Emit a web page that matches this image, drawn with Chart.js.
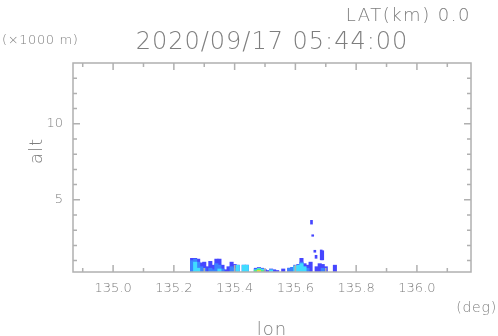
<!DOCTYPE html>
<html>
<head>
<meta charset="utf-8">
<script src="https://cdn.jsdelivr.net/npm/chart.js@4.4.1/dist/chart.umd.min.js"></script>
<style>
  html, body { margin: 0; padding: 0; background: #fff; }
  #wrap { width: 498px; height: 336px; position: relative; }
</style>
</head>
<body>
<div id="wrap"><canvas id="c"></canvas></div>
<script>
// lon columns (deg) and echo tops (km) per intensity level
const colLon = [135.26, 135.27, 135.28, 135.29, 135.30, 135.31, 135.32, 135.33, 135.34, 135.35,
  135.36, 135.37, 135.38, 135.39, 135.40, 135.41, 135.43, 135.44, 135.47, 135.48,
  135.49, 135.50, 135.51, 135.52, 135.53, 135.54, 135.56, 135.58, 135.59, 135.60,
  135.61, 135.62, 135.63, 135.64, 135.65, 135.67, 135.68, 135.69, 135.70, 135.73];
const blueTop = [1.15, 1.15, 1.1, 0.85, 0.9, 0.6, 0.95, 0.7, 1.1, 1.1,
  0.7, 0.4, 0.6, 0.9, 0.75, 0.7, 0.7, 0.7, 0.5, 0.55,
  0.5, 0.4, 0.35, 0.45, 0.4, 0.35, 0.45, 0.5, 0.55, 0.7,
  0.75, 1.15, 0.8, 0.7, 0.9, 0.6, 0.8, 0.75, 0.6, 0.7];
const midTop = [1.0, 1.1, 0.9, 0.6, 0.5, null, 0.5, 0.4, 0.8, 0.7,
  0.45, null, null, 0.6, 0.5, null, null, null, 0.45, null,
  null, null, null, null, null, null, null, 0.5, 0.55, 0.6,
  null, 0.9, null, 0.5, null, null, null, 0.5, null, null];
const cyanTop = [null, 0.9, 0.5, null, null, null, null, null, null, 0.45,
  null, null, null, null, null, 0.7, 0.7, 0.7, 0.4, 0.5,
  0.45, null, null, 0.4, null, null, null, null, null, 0.65,
  0.7, 0.8, 0.6, null, null, null, null, null, null, null];
const greenTop = [null, null, null, null, null, null, null, null, null, null,
  null, null, null, null, null, null, null, null, 0.35, 0.45,
  0.35, null, null, null, null, null, null, null, null, null,
  null, null, null, null, null, null, null, null, null, null];
const yellowTop = [null, null, null, null, null, null, null, null, null, null,
  null, null, null, null, null, null, null, null, null, 0.35,
  null, null, null, null, null, null, null, null, null, null,
  null, null, null, null, null, null, null, null, null, null];

// detached echoes aloft
const floatLon = [135.653, 135.657, 135.664, 135.668, 135.685, 135.69];
const floatLo = [3.4, 2.6, 1.55, 1.15, 1.05, 1.05];
const floatHi = [3.65, 2.7, 1.68, 1.35, 1.7, 1.65];

const xMajor = [135.0, 135.2, 135.4, 135.6, 135.8, 136.0];
const xMinor = [134.9, 135.1, 135.3, 135.5, 135.7, 135.9, 136.1];
const yMajor = [5, 10];
const yMinor = [1, 2, 3, 4, 6, 7, 8, 9, 11, 12, 13];

const X_MIN = 134.868, X_MAX = 136.178;
const Y_MIN = 0.25, Y_MAX = 14.0;

const TEXT = '#7e7e7e';
const LINE = '#b0b0b0';
const FONT = '"DejaVu Sans"';

function cols(tops) {
  const out = [];
  tops.forEach((t, i) => { if (t != null) out.push({ x: colLon[i], y: [Y_MIN, t] }); });
  return out;
}

function layer(tops, color) {
  return { data: cols(tops), backgroundColor: color, barThickness: 3.4, grouped: false, borderWidth: 0 };
}

// dataset 0 is painted on top, so the strongest level goes first
const datasets = [
  layer(yellowTop, '#f0e030'),
  layer(greenTop, '#50f07a'),
  layer(cyanTop, '#40dcff'),
  layer(midTop, '#3c82ff'),
  layer(blueTop, '#4646ff'),
  {
    data: floatLon.map((v, i) => ({ x: v, y: [floatLo[i], floatHi[i]] })),
    backgroundColor: '#4646ff', barThickness: 2, grouped: false, borderWidth: 0,
  },
];

const framePlugin = {
  id: 'frame',
  afterDatasetsDraw(chart) {
    const { ctx, chartArea: a, scales: { x, y } } = chart;
    ctx.save();
    ctx.strokeStyle = LINE;
    ctx.lineWidth = 1.5;
    ctx.strokeRect(a.left, a.top, a.width, a.height);
    ctx.beginPath();
    const xt = (v, len) => {
      const px = x.getPixelForValue(v);
      ctx.moveTo(px, a.bottom); ctx.lineTo(px, a.bottom - len);
      ctx.moveTo(px, a.top); ctx.lineTo(px, a.top + len);
    };
    const yt = (v, len) => {
      const py = y.getPixelForValue(v);
      ctx.moveTo(a.left, py); ctx.lineTo(a.left + len, py);
      ctx.moveTo(a.right, py); ctx.lineTo(a.right - len, py);
    };
    xMajor.forEach(v => xt(v, 7));
    xMinor.forEach(v => xt(v, 4));
    yMajor.forEach(v => yt(v, 7));
    yMinor.forEach(v => yt(v, 4));
    ctx.stroke();
    ctx.restore();
  },
};

const textPlugin = {
  id: 'texts',
  afterDraw(chart) {
    const { ctx, chartArea: a } = chart;
    ctx.save();
    ctx.fillStyle = TEXT;
    ctx.textBaseline = 'alphabetic';
    ctx.font = `200 18px ${FONT}`;
    ctx.letterSpacing = '1.5px';
    ctx.textAlign = 'right';
    ctx.fillText('LAT(km) 0.0', 471, 21);
    ctx.font = `200 24px ${FONT}`;
    ctx.letterSpacing = '1px';
    ctx.textAlign = 'center';
    ctx.fillText('2020/09/17 05:44:00', 272, 49);
    ctx.font = `200 13px ${FONT}`;
    ctx.letterSpacing = '0.6px';
    ctx.textAlign = 'left';
    ctx.fillText('(\u00d71000 m)', 2, 44);
    ctx.font = `200 14px ${FONT}`;
    ctx.letterSpacing = '0.8px';
    ctx.textAlign = 'right';
    ctx.fillText('(deg)', 497, 312);
    ctx.font = `200 18px ${FONT}`;
    ctx.letterSpacing = '1px';
    ctx.textAlign = 'center';
    ctx.fillText('lon', (a.left + a.right) / 2, 335);
    ctx.translate(42, 151);
    ctx.rotate(-Math.PI / 2);
    ctx.fillText('alt', 0, 0);
    ctx.restore();
  },
};

new Chart(document.getElementById('c'), {
  type: 'bar',
  data: { datasets },
  options: {
    responsive: true,
    maintainAspectRatio: false,
    animation: false,
    layout: { padding: { top: 63, right: 27, left: 0, bottom: 0 } },
    plugins: { legend: { display: false }, tooltip: { enabled: false }, title: { display: false } },
    scales: {
      x: {
        type: 'linear',
        offset: false,
        min: X_MIN,
        max: X_MAX,
        grid: { display: false, drawTicks: false },
        border: { display: false },
        afterBuildTicks: (s) => { s.ticks = xMajor.map(v => ({ value: v })); },
        afterFit: (s) => { s.height = 64; },
        ticks: {
          color: TEXT,
          padding: 9,
          maxRotation: 0,
          autoSkip: false,
          font: { family: FONT, size: 13, weight: 200 },
          callback: (v) => Number(v).toFixed(1),
        },
      },
      y: {
        min: Y_MIN,
        max: Y_MAX,
        grid: { display: false, drawTicks: false },
        border: { display: false },
        afterBuildTicks: (s) => { s.ticks = yMajor.map(v => ({ value: v })); },
        afterFit: (s) => { s.width = 73; },
        ticks: {
          color: TEXT,
          padding: 10,
          font: { family: FONT, size: 13, weight: 200 },
        },
      },
    },
  },
  plugins: [framePlugin, textPlugin],
});
</script>
</body>
</html>
